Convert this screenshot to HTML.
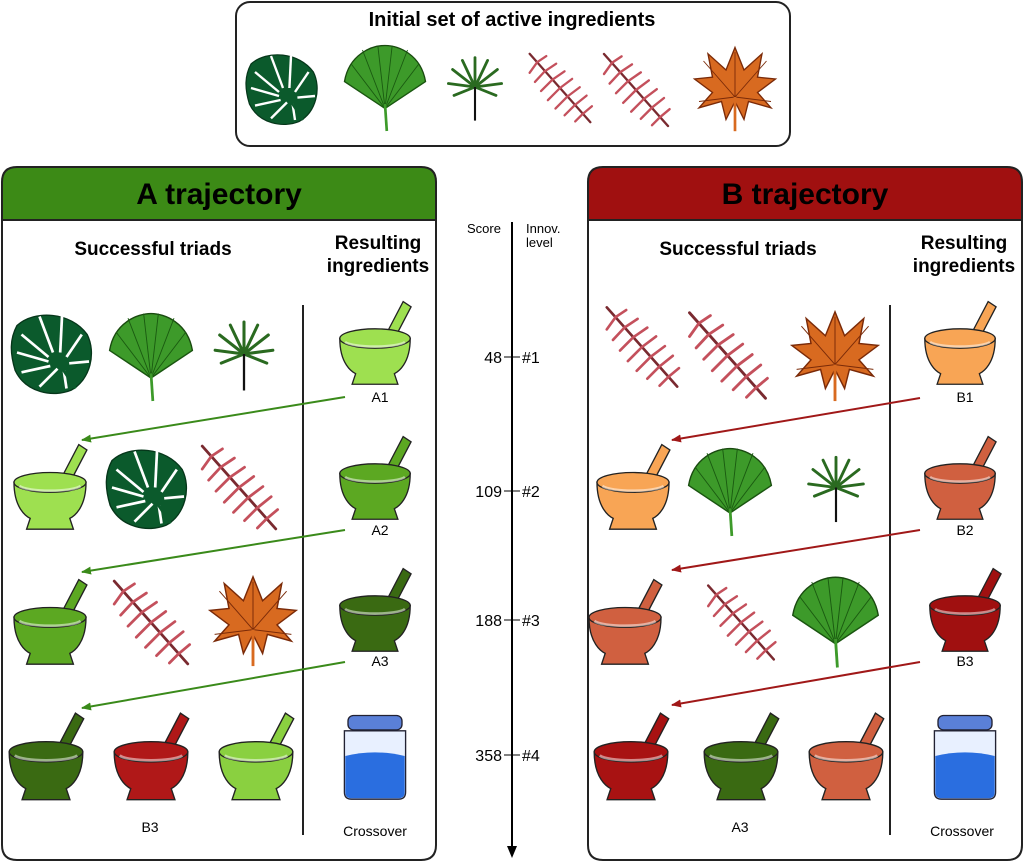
<!DOCTYPE html>
<html><head><meta charset="utf-8"><style>
html,body{margin:0;padding:0;background:#fff;}
svg{display:block;font-family:"Liberation Sans",sans-serif;}
</style></head><body>
<svg width="1024" height="864" viewBox="0 0 1024 864" xmlns="http://www.w3.org/2000/svg">
<defs>
<symbol id="monstera" viewBox="-50 -50 100 100" overflow="visible">
<path d="M-40,-30 C-20,-48 20,-45 38,-20 C48,0 42,30 20,42 C0,50 -30,45 -42,20 C-48,0 -48,-15 -40,-30Z" fill="#0b5a2c" stroke="#06361a" stroke-width="1.5"/>
<g stroke="#fff" stroke-width="3" fill="none">
<path d="M-35,-20 L-5,5"/><path d="M-40,0 L-5,10"/><path d="M-35,22 L-3,15"/><path d="M-15,38 L5,18"/><path d="M15,40 L12,20"/><path d="M-15,-40 L0,0"/><path d="M10,-40 L8,0"/><path d="M32,-20 L15,5"/><path d="M40,10 L18,12"/>
</g>
<path d="M5,10 L25,40" stroke="#0b5a2c" stroke-width="3"/>
</symbol>
<symbol id="fan" viewBox="-50 -50 100 100" overflow="visible">
<path d="M0,25 L-45,-5 C-40,-35 -15,-45 0,-45 C15,-45 40,-35 45,-5Z" fill="#3d9a2a" stroke="#1a4a10" stroke-width="1.5"/>
<g stroke="#1a5a10" stroke-width="1">
<path d="M0,25 L-45,-5"/><path d="M0,25 L-38,-25"/><path d="M0,25 L-25,-40"/><path d="M0,25 L-8,-45"/><path d="M0,25 L8,-45"/><path d="M0,25 L25,-40"/><path d="M0,25 L38,-25"/><path d="M0,25 L45,-5"/>
</g>
<path d="M0,20 L2,50" stroke="#3d9a2a" stroke-width="3"/>
</symbol>
<symbol id="small" viewBox="-50 -50 100 100" overflow="visible">
<g stroke="#2a6a20" stroke-width="4" stroke-linecap="round">
<path d="M0,0 L-38,-5"/><path d="M0,0 L-32,-25"/><path d="M0,0 L-18,-38"/><path d="M0,0 L0,-42"/><path d="M0,0 L18,-38"/><path d="M0,0 L32,-25"/><path d="M0,0 L38,-5"/><path d="M0,0 L-30,12"/><path d="M0,0 L30,12"/>
</g>
<path d="M0,0 L0,48" stroke="#111" stroke-width="3"/>
</symbol>
<symbol id="fern" viewBox="-50 -50 100 100" overflow="visible">
<g stroke="#c4505c" stroke-width="3" stroke-linecap="round">
<path d="M-40,-45 L40,45" stroke="#7a2a30"/>
<path d="M-30,-34 L-40,-20"/><path d="M-30,-34 L-18,-42"/>
<path d="M-20,-22 L-33,-8"/><path d="M-20,-22 L-5,-32"/>
<path d="M-10,-11 L-25,4"/><path d="M-10,-11 L6,-22"/>
<path d="M0,0 L-16,16"/><path d="M0,0 L16,-12"/>
<path d="M10,11 L-6,27"/><path d="M10,11 L26,-1"/>
<path d="M20,22 L6,36"/><path d="M20,22 L35,10"/>
<path d="M30,34 L20,44"/><path d="M30,34 L42,24"/>
</g>
</symbol>
<symbol id="orange" viewBox="-50 -50 100 100" overflow="visible">
<path d="M0,-45 L10,-20 L30,-38 L25,-12 L45,-10 L25,5 L40,22 L15,15 L10,35 L0,15 L-10,35 L-15,15 L-40,22 L-25,5 L-45,-10 L-25,-12 L-30,-38 L-10,-20Z" fill="#d86a20" stroke="#7a2a08" stroke-width="1.5"/>
<g stroke="#7a2a08" stroke-width="1"><path d="M0,10 L0,-40"/><path d="M0,10 L35,-30"/><path d="M0,10 L-35,-30"/><path d="M0,10 L40,15"/><path d="M0,10 L-40,15"/></g>
<path d="M0,10 L0,48" stroke="#d86a20" stroke-width="3"/>
</symbol>
<symbol id="mortar" viewBox="-50 -50 100 100" overflow="visible">
<path d="M8,0 L32,-46 L41,-40 L18,4Z" fill="currentColor" stroke="#222" stroke-width="1.5"/>
<path d="M-40,-4 C-40,25 -26,34 -22,36 L-26,48 L26,48 L22,36 C26,34 40,25 40,-4Z" fill="currentColor" stroke="#222" stroke-width="1.5"/>
<ellipse cx="0" cy="-4" rx="40" ry="11" fill="currentColor" stroke="#222" stroke-width="1.5"/>
<path d="M-34,0 C-25,7 25,7 34,0" fill="none" stroke="#fff" stroke-opacity="0.5" stroke-width="3"/>
</symbol>
<symbol id="jar" viewBox="-50 -50 100 100" overflow="visible">
<rect x="-30" y="-45" width="60" height="16" rx="6" fill="#5a80d8" stroke="#223" stroke-width="1.5"/>
<path d="M-34,-28 L34,-28 L34,40 Q34,48 26,48 L-26,48 Q-34,48 -34,40Z" fill="#e8f0ff" stroke="#223" stroke-width="1.5"/>
<path d="M-33,0 Q0,-8 33,0 L33,40 Q33,47 26,47 L-26,47 Q-33,47 -33,40Z" fill="#2a6ee0"/>
</symbol>
<marker id="ag" markerWidth="10" markerHeight="8" refX="9" refY="4" orient="auto" markerUnits="userSpaceOnUse"><path d="M0,0 L10,4 L0,8Z" fill="#3a8a1a"/></marker>
<marker id="ar" markerWidth="10" markerHeight="8" refX="9" refY="4" orient="auto" markerUnits="userSpaceOnUse"><path d="M0,0 L10,4 L0,8Z" fill="#a01818"/></marker>
</defs>

<rect x="236" y="2" width="554" height="144" rx="14" fill="#fff" stroke="#222" stroke-width="2"/>
<text x="512" y="26" text-anchor="middle" font-size="20" font-weight="bold">Initial set of active ingredients</text>
<use href="#monstera" x="243" y="43" width="80" height="90"/>
<use href="#fan" x="340" y="40" width="90" height="92"/>
<use href="#small" x="440" y="43" width="70" height="88"/>
<use href="#fern" x="522" y="38" width="76" height="100"/>
<use href="#fern" x="596" y="45" width="80" height="90"/>
<use href="#orange" x="690" y="42" width="90" height="92"/>

<path d="M2,232 L2,845 Q2,860 17,860 L421,860 Q436,860 436,845 L436,220 L2,220Z" fill="#fff" stroke="#222" stroke-width="2"/>
<path d="M2,220 L2,182 Q2,167 17,167 L421,167 Q436,167 436,182 L436,220Z" fill="#3c8a16" stroke="#222" stroke-width="2"/>
<text x="219" y="204" text-anchor="middle" font-size="30" font-weight="bold">A trajectory</text>
<text x="153" y="255" text-anchor="middle" font-size="19" font-weight="bold">Successful triads</text>
<text x="378" y="249" text-anchor="middle" font-size="19" font-weight="bold">Resulting</text>
<text x="378" y="272" text-anchor="middle" font-size="19" font-weight="bold">ingredients</text>
<line x1="303" y1="305" x2="303" y2="835" stroke="#222" stroke-width="2"/>

<path d="M588,232 L588,845 Q588,860 603,860 L1007,860 Q1022,860 1022,845 L1022,220 L588,220Z" fill="#fff" stroke="#222" stroke-width="2"/>
<path d="M588,220 L588,182 Q588,167 603,167 L1007,167 Q1022,167 1022,182 L1022,220Z" fill="#a01010" stroke="#222" stroke-width="2"/>
<text x="805" y="204" text-anchor="middle" font-size="30" font-weight="bold">B trajectory</text>
<text x="738" y="255" text-anchor="middle" font-size="19" font-weight="bold">Successful triads</text>
<text x="964" y="249" text-anchor="middle" font-size="19" font-weight="bold">Resulting</text>
<text x="964" y="272" text-anchor="middle" font-size="19" font-weight="bold">ingredients</text>
<line x1="890" y1="305" x2="890" y2="835" stroke="#222" stroke-width="2"/>

<text x="484" y="233" text-anchor="middle" font-size="13">Score</text>
<text x="526" y="233" font-size="13">Innov.</text>
<text x="526" y="247" font-size="13">level</text>
<line x1="512" y1="222" x2="512" y2="848" stroke="#000" stroke-width="2"/>
<path d="M507,846 L517,846 L512,858Z" fill="#000"/>
<g stroke="#000">
<line x1="504" y1="357" x2="520" y2="357"/><line x1="504" y1="491" x2="520" y2="491"/><line x1="504" y1="620" x2="520" y2="620"/><line x1="504" y1="755" x2="520" y2="755"/>
</g>
<g font-size="16">
<text x="502" y="363" text-anchor="end">48</text><text x="522" y="363">#1</text>
<text x="502" y="497" text-anchor="end">109</text><text x="522" y="497">#2</text>
<text x="502" y="626" text-anchor="end">188</text><text x="522" y="626">#3</text>
<text x="502" y="761" text-anchor="end">358</text><text x="522" y="761">#4</text>
</g>

<use href="#monstera" x="8" y="305" width="90" height="95"/>
<use href="#fan" x="105" y="305" width="92" height="100"/>
<use href="#small" x="206" y="308" width="76" height="92"/>
<use href="#mortar" x="330" y="298" width="90" height="88" style="color:#9ee050"/>
<text x="380" y="402" text-anchor="middle" font-size="14">A1</text>

<use href="#mortar" x="5" y="440" width="90" height="92" style="color:#9ee050"/>
<use href="#monstera" x="103" y="440" width="90" height="95"/>
<use href="#fern" x="193" y="440" width="92" height="95"/>
<use href="#mortar" x="330" y="433" width="90" height="88" style="color:#5ca822"/>
<text x="380" y="535" text-anchor="middle" font-size="14">A2</text>

<use href="#mortar" x="5" y="575" width="90" height="92" style="color:#5ca822"/>
<use href="#fern" x="105" y="575" width="92" height="95"/>
<use href="#orange" x="205" y="570" width="96" height="100"/>
<use href="#mortar" x="330" y="565" width="90" height="88" style="color:#3a6a12"/>
<text x="380" y="666" text-anchor="middle" font-size="14">A3</text>

<use href="#mortar" x="0" y="708" width="92" height="95" style="color:#3a6a12"/>
<use href="#mortar" x="105" y="708" width="92" height="95" style="color:#b01818"/>
<use href="#mortar" x="210" y="708" width="92" height="95" style="color:#8ad040"/>
<use href="#jar" x="330" y="710" width="90" height="92"/>
<text x="150" y="832" text-anchor="middle" font-size="14">B3</text>
<text x="375" y="836" text-anchor="middle" font-size="14">Crossover</text>

<g stroke="#3a8a1a" stroke-width="2">
<line x1="345" y1="397" x2="82" y2="440" marker-end="url(#ag)"/>
<line x1="345" y1="530" x2="82" y2="572" marker-end="url(#ag)"/>
<line x1="345" y1="662" x2="82" y2="708" marker-end="url(#ag)"/>
</g>

<use href="#fern" x="598" y="298" width="88" height="98"/>
<use href="#fern" x="680" y="308" width="95" height="95"/>
<use href="#orange" x="787" y="305" width="96" height="100"/>
<use href="#mortar" x="915" y="298" width="90" height="88" style="color:#f8a555"/>
<text x="965" y="402" text-anchor="middle" font-size="14">B1</text>

<use href="#mortar" x="588" y="440" width="90" height="92" style="color:#f8a555"/>
<use href="#fan" x="684" y="440" width="92" height="100"/>
<use href="#small" x="800" y="440" width="72" height="95"/>
<use href="#mortar" x="915" y="433" width="90" height="88" style="color:#d06040"/>
<text x="965" y="535" text-anchor="middle" font-size="14">B2</text>

<use href="#mortar" x="580" y="575" width="90" height="92" style="color:#d06040"/>
<use href="#fern" x="700" y="570" width="82" height="105"/>
<use href="#fan" x="788" y="570" width="95" height="100"/>
<use href="#mortar" x="920" y="565" width="90" height="88" style="color:#a01010"/>
<text x="965" y="666" text-anchor="middle" font-size="14">B3</text>

<use href="#mortar" x="585" y="708" width="92" height="95" style="color:#a81212"/>
<use href="#mortar" x="695" y="708" width="92" height="95" style="color:#3a6a12"/>
<use href="#mortar" x="800" y="708" width="92" height="95" style="color:#d06040"/>
<use href="#jar" x="920" y="710" width="90" height="92"/>
<text x="740" y="832" text-anchor="middle" font-size="14">A3</text>
<text x="962" y="836" text-anchor="middle" font-size="14">Crossover</text>

<g stroke="#a01818" stroke-width="2">
<line x1="920" y1="398" x2="672" y2="440" marker-end="url(#ar)"/>
<line x1="920" y1="530" x2="672" y2="570" marker-end="url(#ar)"/>
<line x1="920" y1="662" x2="672" y2="705" marker-end="url(#ar)"/>
</g>
</svg>
</body></html>
